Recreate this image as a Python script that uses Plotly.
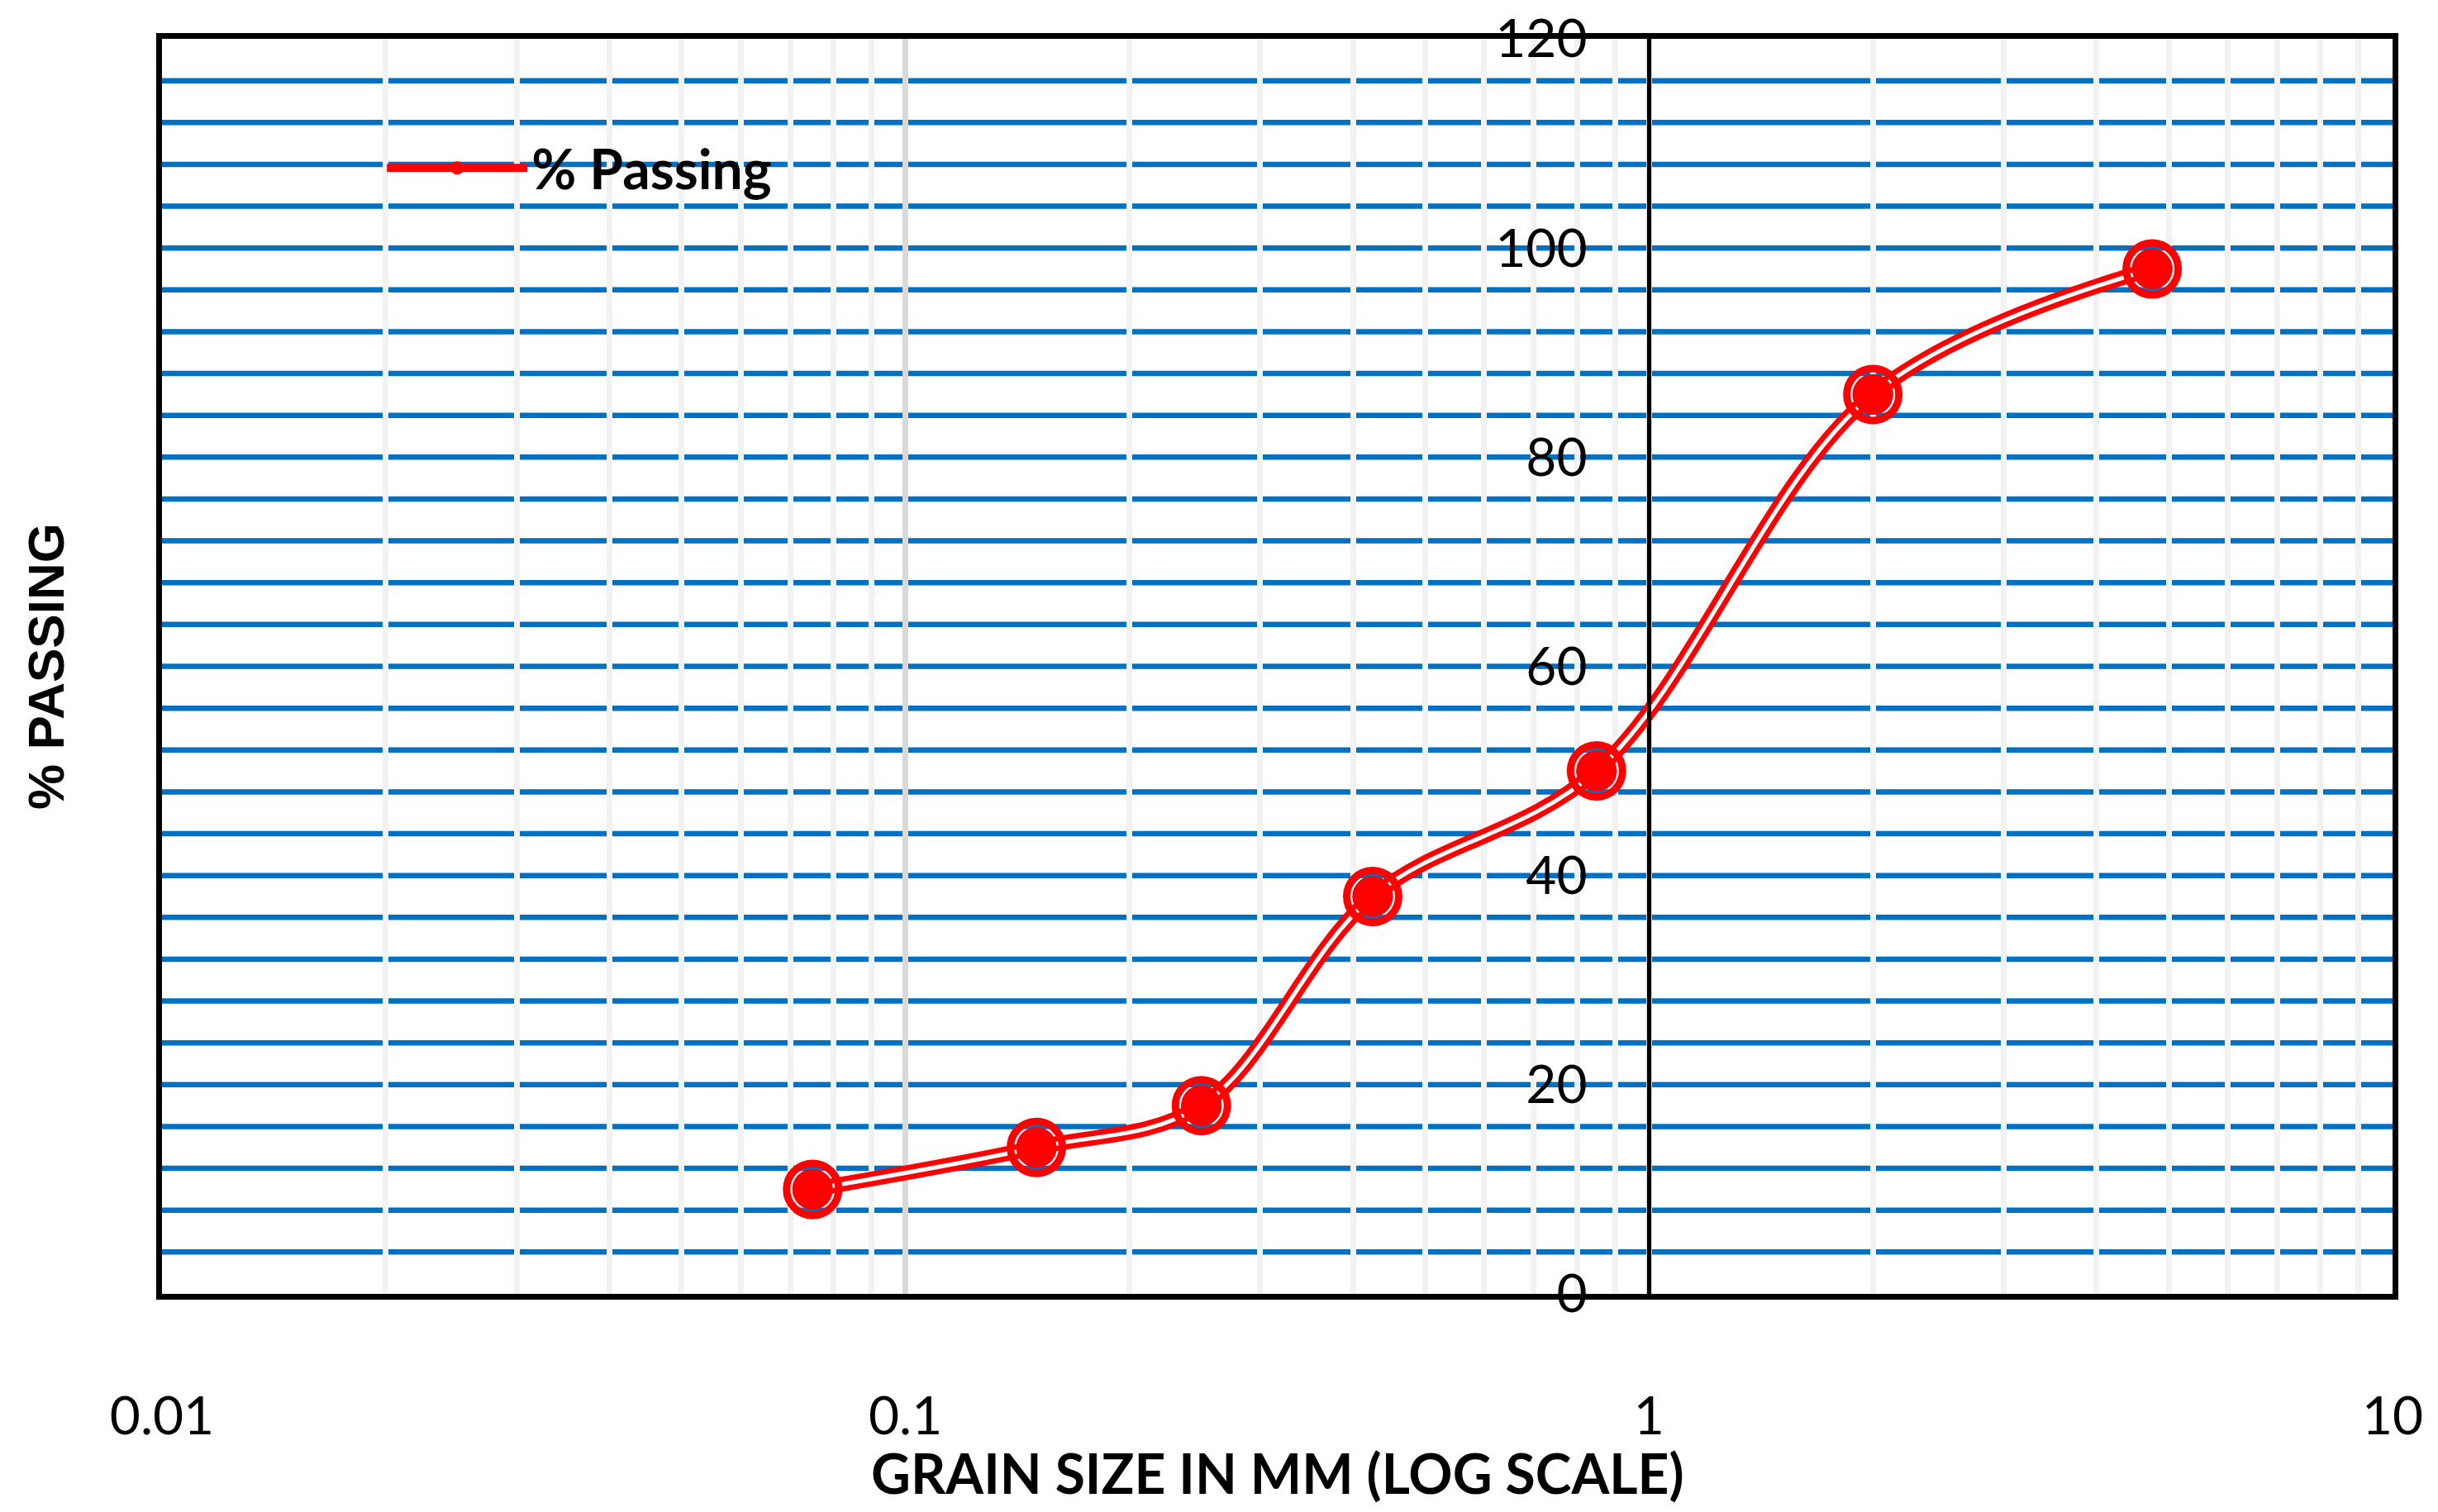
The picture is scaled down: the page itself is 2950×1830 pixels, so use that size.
import plotly.graph_objects as go

# Data
grain_size_mm = [0.075, 0.15, 0.25, 0.425, 0.85, 2.0, 4.75]
percent_passing = [10, 14, 18, 38, 50, 86, 98]
series_name = "% Passing"
x_title = "GRAIN SIZE IN MM (LOG SCALE)"
y_title = "% PASSING"

x_tick_vals = [0.01, 0.1, 1, 10]
x_tick_text = ["0.01", "0.1", "1", "10"]
y_tick_vals = [0, 20, 40, 60, 80, 100, 120]
y_grid_vals = list(range(4, 120, 4))

RED = "#FF0000"
BLUE = "#0070C0"
TICK_FONT = dict(family="Lato", size=64, color="black")

fig = go.Figure()

# red body of the double line (legend entry)
fig.add_trace(go.Scatter(
    x=grain_size_mm, y=percent_passing, name=series_name,
    mode="lines+markers",
    line=dict(color=RED, width=18, shape="spline", smoothing=1),
    marker=dict(symbol="circle", size=49, color=RED, line=dict(width=0)),
    showlegend=True,
))
# white core of the double line
fig.add_trace(go.Scatter(
    x=grain_size_mm, y=percent_passing, yaxis="y2", mode="lines",
    line=dict(color="white", width=5, shape="spline", smoothing=1),
    showlegend=False, hoverinfo="skip",
))
# outer marker ring (transparent gap inside)
fig.add_trace(go.Scatter(
    x=grain_size_mm, y=percent_passing, yaxis="y2", mode="markers",
    marker=dict(symbol="circle", size=63, color="rgba(0,0,0,0)", line=dict(color=RED, width=9)),
    showlegend=False, hoverinfo="skip",
))
# inner marker dot
fig.add_trace(go.Scatter(
    x=grain_size_mm, y=percent_passing, yaxis="y2", mode="markers",
    marker=dict(symbol="circle", size=49, color=RED, line=dict(width=0)),
    showlegend=False,
))

# blue horizontal gridlines (drawn below the vertical grid)
for gy in y_grid_vals:
    fig.add_shape(type="line", xref="paper", yref="y", x0=0, x1=1, y0=gy, y1=gy,
                  line=dict(color=BLUE, width=6.5), layer="below")

# x-axis title placed as text below the tick labels
fig.add_annotation(
    text=x_title, xref="paper", yref="paper", x=0.5, y=-0.1425,
    xanchor="center", yanchor="middle", showarrow=False,
    font=dict(family="Lato", size=66, color="black", weight="bold"),
)

fig.update_layout(
    width=2942, height=1822,
    margin=dict(l=188, r=55, t=39, b=264, autoexpand=False),
    paper_bgcolor="white", plot_bgcolor="white",
    font=dict(family="Lato", color="black"),
    showlegend=True,
    legend=dict(
        x=0.099, y=0.897, xanchor="left", yanchor="middle",
        bgcolor="rgba(0,0,0,0)", borderwidth=0,
        font=dict(family="Lato", size=66, color="black", weight="bold"),
        itemwidth=170,
    ),
    xaxis=dict(
        type="log", range=[-2, 1], automargin=False,
        tickvals=x_tick_vals, ticktext=x_tick_text,
        tickfont=TICK_FONT, ticks="", ticklabelstandoff=86,
        ticklabeloverflow="allow",
        showgrid=True, gridcolor="#D9D9D9", gridwidth=7,
        minor=dict(showgrid=True, gridcolor="#F2F2F2", gridwidth=7, dtick="D1", ticks=""),
        showline=True, linecolor="black", linewidth=7, mirror=True,
        zeroline=False,
    ),
    yaxis=dict(
        range=[0, 120], showgrid=False, zeroline=False, automargin=False,
        showticklabels=False, ticks="",
        showline=True, linecolor="black", linewidth=7, mirror=True,
        title=dict(text=y_title, standoff=94,
                   font=dict(family="Liberation Sans", size=62, color="black", weight="bold")),
    ),
    yaxis2=dict(
        range=[0, 120], overlaying="y", anchor="free", position=2/3, side="left",
        automargin=False,
        tickvals=y_tick_vals, tickfont=TICK_FONT, ticks="", ticklabelstandoff=60,
        ticklabeloverflow="allow",
        showgrid=False, zeroline=False,
        showline=True, linecolor="black", linewidth=5,
    ),
)

fig.write_html("out.html")
